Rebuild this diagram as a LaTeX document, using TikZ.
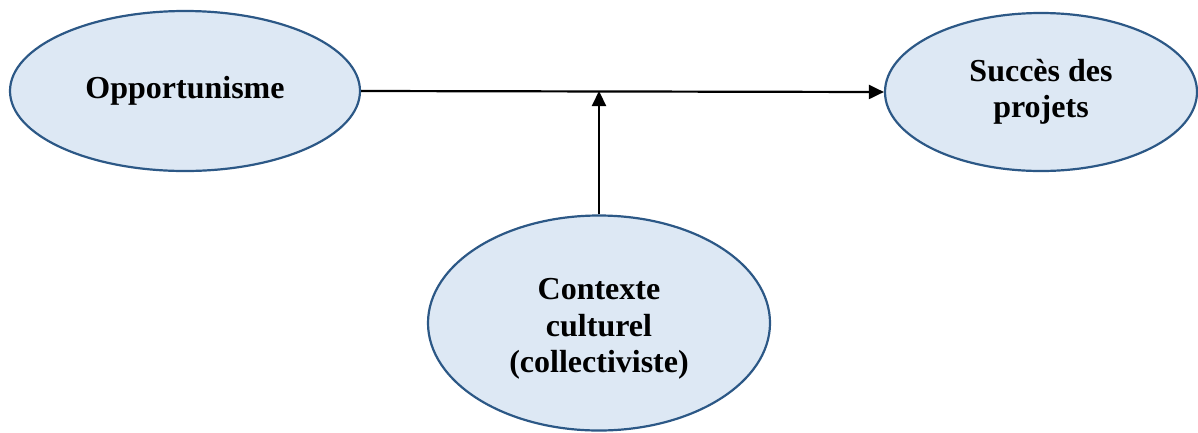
\documentclass[tikz,border=0pt]{standalone}
\usepackage{fontspec}
\setmainfont{Liberation Serif}
\usetikzlibrary{shapes.geometric,arrows.meta}
\definecolor{ellfill}{HTML}{DDE8F4}
\definecolor{elldraw}{HTML}{2C5886}
\tikzset{
  ell/.style={ellipse, draw=elldraw, fill=ellfill, line width=2.2pt, inner sep=0pt,
    align=center, font=\bfseries\fontsize{32}{36}\selectfont},
  arr/.style={line width=2.2pt, -{Triangle[length=15pt,width=14pt]}}
}
\begin{document}
\begin{tikzpicture}[x=1pt,y=-1pt]
\useasboundingbox (0,0) rectangle (1198,432);
\node[ell, minimum width=350pt, minimum height=160pt] (opp) at (185,91) {Opportunisme};
\node[ell, minimum width=312pt, minimum height=158pt] (succ) at (1041,92) {Succès des\\projets};
\node[ell, minimum width=342pt, minimum height=215pt] (ctx) at (599,323) {};
\node[font=\bfseries\fontsize{32}{36.5}\selectfont, align=center] (ctxt) at (599,329) {Contexte\\culturel\\(collectiviste)};
\coordinate (j) at (599,91);
\draw[arr] (opp.east) -- (succ.west);
\draw[arr] (ctx.north) -- (j);
\end{tikzpicture}
\end{document}
